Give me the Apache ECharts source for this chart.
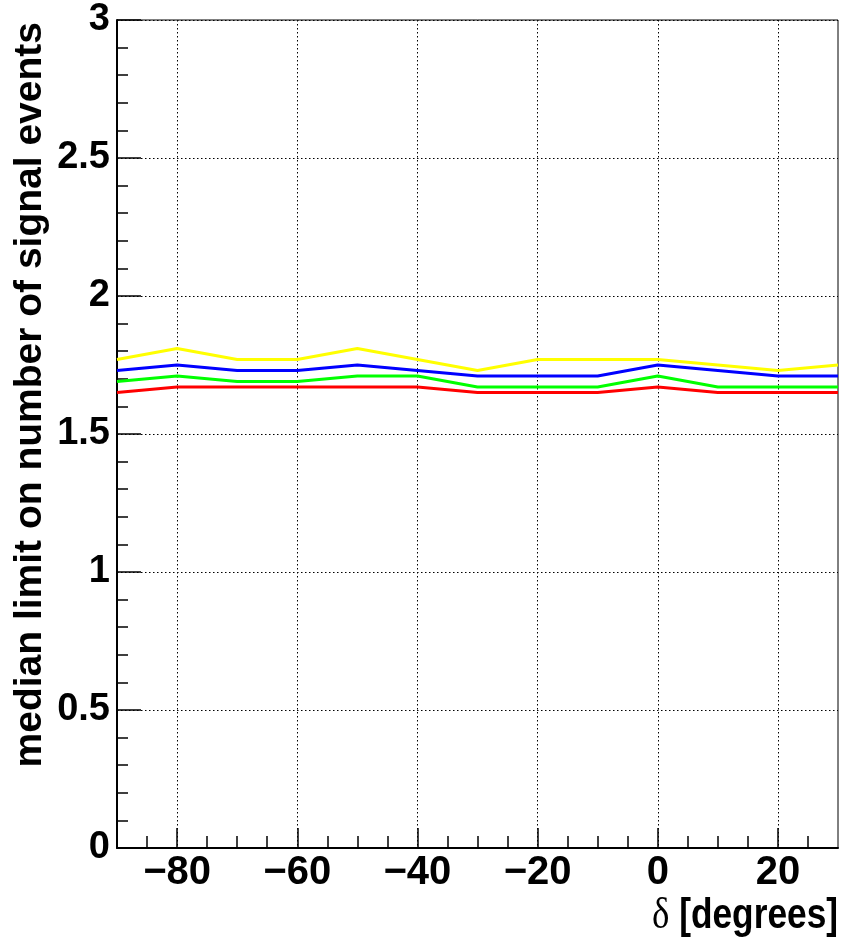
<!DOCTYPE html>
<html>
<head>
<meta charset="utf-8">
<script src="https://cdn.jsdelivr.net/npm/echarts@6/dist/echarts.min.js"></script>
<style>
  html, body { margin: 0; padding: 0; background: #fff; }
  #chart { width: 842px; height: 938px; }
</style>
</head>
<body>
<div id="chart"></div>
<script>
// Declination grid (degrees)
const declination = [-90, -80, -70, -60, -50, -40, -30, -20, -10, 0, 10, 20, 30];

// Median upper limit on the number of signal events, one curve per setting
const limitYellow = [1.77, 1.81, 1.77, 1.77, 1.81, 1.77, 1.73, 1.77, 1.77, 1.77, 1.75, 1.73, 1.75];
const limitBlue   = [1.73, 1.75, 1.73, 1.73, 1.75, 1.73, 1.71, 1.71, 1.71, 1.75, 1.73, 1.71, 1.71];
const limitGreen  = [1.69, 1.71, 1.69, 1.69, 1.71, 1.71, 1.67, 1.67, 1.67, 1.71, 1.67, 1.67, 1.67];
const limitRed    = [1.65, 1.67, 1.67, 1.67, 1.67, 1.67, 1.65, 1.65, 1.65, 1.67, 1.65, 1.65, 1.65];

// Axis ticks
const xMajorTicks = [-80, -60, -40, -20, 0, 20];
const xMinorTicks = [-85, -75, -70, -65, -55, -50, -45, -35, -30, -25, -15, -10, -5, 5, 10, 15, 25];

const xTitle = ' [degrees]';
const yTitle = 'median limit on number of signal events';

const FONT = "'Liberation Sans', Arial, Helvetica, sans-serif";

function pairs(values) {
  return declination.map((d, i) => [d, values[i]]);
}

// Negative numbers use a true minus sign
function signed(v) {
  return v < 0 ? '\u2212' + Math.abs(v) : String(v);
}

const dotted = { color: '#000', width: 1, type: [1.5, 2.5] };

const chart = echarts.init(document.getElementById('chart'), null, { renderer: 'canvas' });

chart.setOption({
  animation: false,
  backgroundColor: '#fff',
  grid: {
    left: 117, right: 4, top: 20, bottom: 90,
    show: true, borderColor: '#000', borderWidth: 1,
    backgroundColor: 'transparent'
  },
  xAxis: [
    {
      type: 'value', min: -90, max: 30,
      axisLine: { show: true, onZero: false, lineStyle: { color: '#000', width: 2 } },
      axisTick: { show: true, inside: true, length: 20, customValues: xMajorTicks,
                  lineStyle: { color: '#000', width: 1.5 } },
      axisLabel: { show: true, customValues: xMajorTicks, margin: 5, formatter: signed,
                   color: '#000', fontFamily: FONT, fontWeight: 'bold', fontSize: 40 },
      splitLine: { show: true, lineStyle: dotted }
    },
    {
      type: 'value', min: -90, max: 30, position: 'bottom',
      axisLine: { show: false },
      axisTick: { show: true, inside: true, length: 12, customValues: xMinorTicks,
                  lineStyle: { color: '#000', width: 1.5 } },
      axisLabel: { show: false },
      splitLine: { show: false }
    }
  ],
  yAxis: {
    type: 'value', min: 0, max: 3, interval: 0.5,
    axisLine: { show: true, onZero: false, lineStyle: { color: '#000', width: 2 } },
    axisTick: { show: true, inside: true, length: 24, lineStyle: { color: '#000', width: 1.5 } },
    minorTick: { show: true, splitNumber: 5, length: 11, lineStyle: { color: '#000', width: 1.5 } },
    axisLabel: { margin: 7, padding: [6, 0, 0, 0], color: '#000',
                 fontFamily: FONT, fontWeight: 'bold', fontSize: 38 },
    splitLine: { show: true, lineStyle: dotted }
  },
  series: [
    { name: 'yellow', type: 'line', data: pairs(limitYellow), showSymbol: false,
      lineStyle: { color: '#ffff00', width: 3 }, itemStyle: { color: '#ffff00' } },
    { name: 'blue', type: 'line', data: pairs(limitBlue), showSymbol: false,
      lineStyle: { color: '#0000ff', width: 3 }, itemStyle: { color: '#0000ff' } },
    { name: 'green', type: 'line', data: pairs(limitGreen), showSymbol: false,
      lineStyle: { color: '#00ff00', width: 3 }, itemStyle: { color: '#00ff00' } },
    { name: 'red', type: 'line', data: pairs(limitRed), showSymbol: false,
      lineStyle: { color: '#ff0000', width: 3 }, itemStyle: { color: '#ff0000' } }
  ],
  graphic: [
    {
      type: 'text', x: 838, y: 916, scaleX: 0.84,
      style: {
        text: '{d|δ}{b|' + xTitle + '}',
        align: 'right', verticalAlign: 'middle',
        rich: {
          d: { fontFamily: "'Liberation Serif', 'DejaVu Serif', serif", fontSize: 44, fill: '#000' },
          b: { fontFamily: FONT, fontWeight: 'bold', fontSize: 42, fill: '#000' }
        }
      }
    },
    {
      type: 'text', x: 30, y: 22, rotation: Math.PI / 2,
      style: {
        text: yTitle, align: 'right', verticalAlign: 'middle',
        fontFamily: FONT, fontWeight: 'bold', fontSize: 39, fill: '#000'
      }
    }
  ]
});
</script>
</body>
</html>
